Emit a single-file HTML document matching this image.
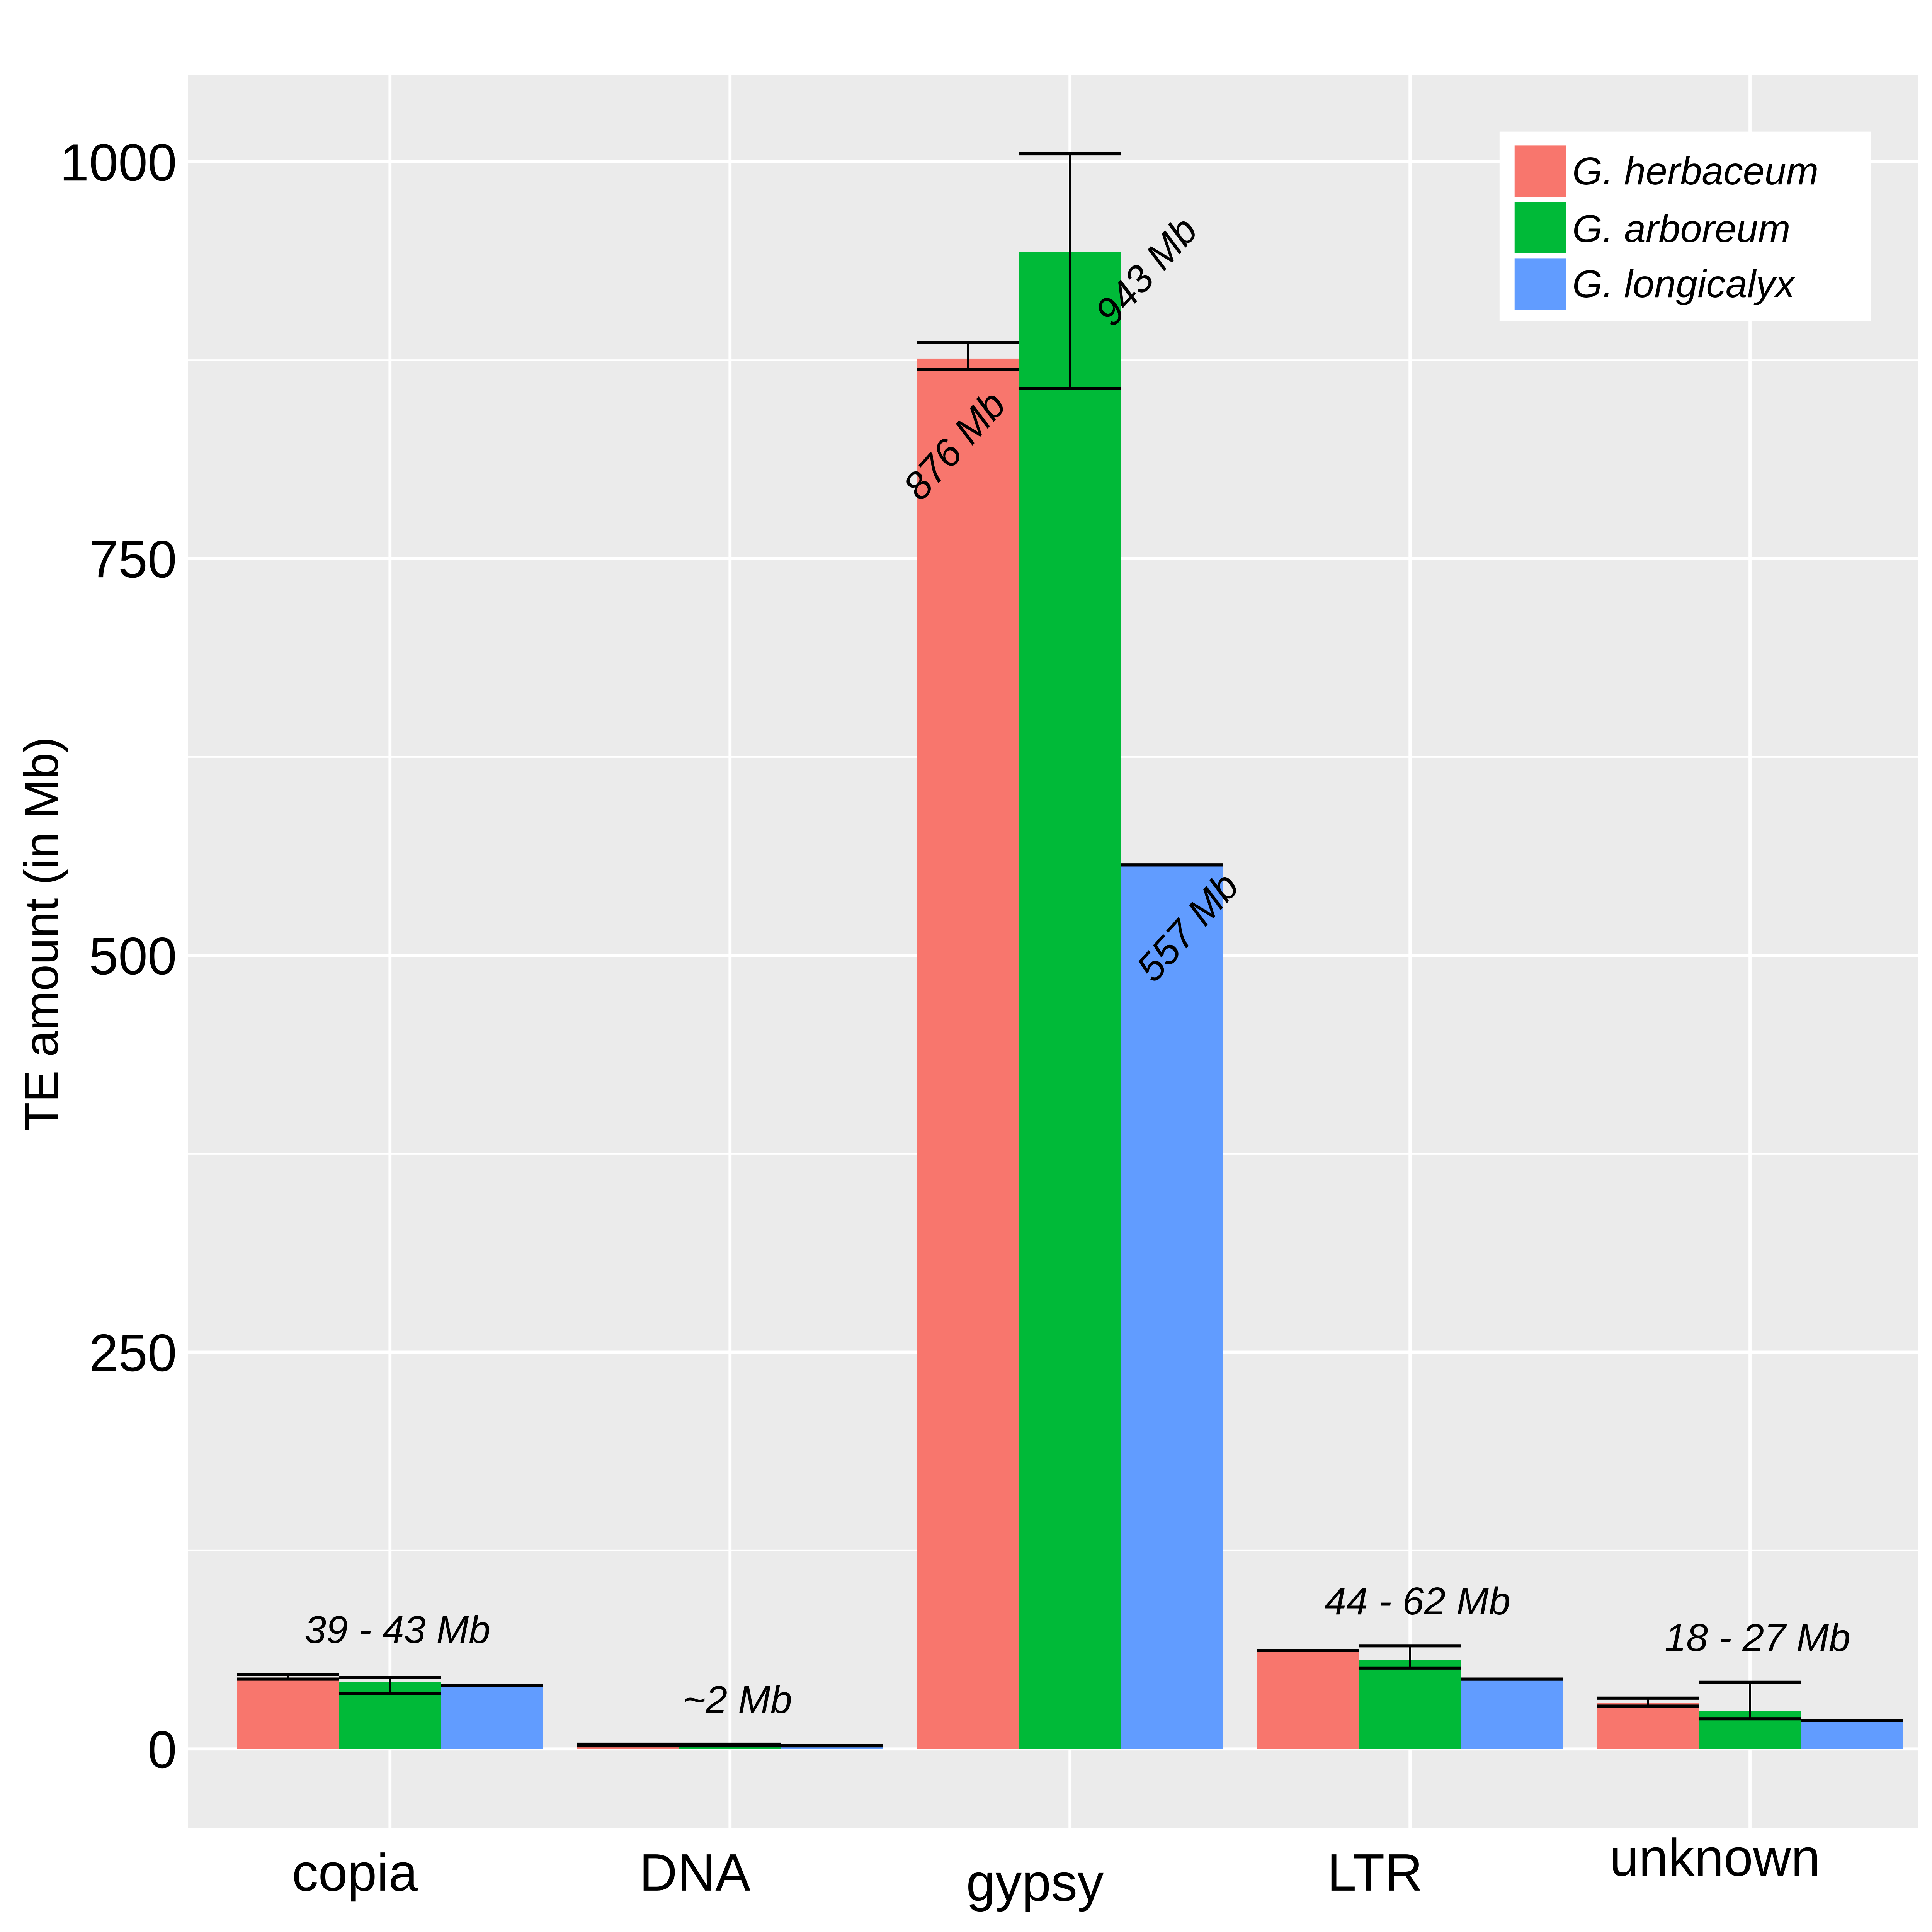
<!DOCTYPE html>
<html><head><meta charset="utf-8"><style>
html,body{margin:0;padding:0;background:#fff;}
svg{display:block;}
text{font-family:"Liberation Sans",sans-serif;}
</style></head><body>
<svg id="chart" width="5088" height="5000" viewBox="0 0 1568 1541" xmlns="http://www.w3.org/2000/svg">
<rect x="150" y="60" width="1380" height="1398" fill="#ebebeb"/>
<g id="grid"></g>
<g id="bars"></g>
<g id="labels"></g>
<g id="legend">
  <rect x="1196" y="105" width="296" height="151" fill="#fff"/>
  <rect x="1208" y="116" width="41" height="41" fill="#f8766d"/>
  <rect x="1208" y="161" width="41" height="41" fill="#00ba38"/>
  <rect x="1208" y="206" width="41" height="41" fill="#619cff"/>
  <text x="1254" y="147" font-size="31" font-style="italic">G. herbaceum</text>
  <text x="1254" y="193" font-size="31" font-style="italic">G. arboreum</text>
  <text x="1254" y="237" font-size="31" font-style="italic">G. longicalyx</text>
</g>
<text transform="translate(46,745) rotate(-90)" text-anchor="middle" font-size="38">TE amount (in Mb)</text>
</svg>
<script>
const categories = ["copia","DNA","gypsy","LTR","unknown"];
const herbaceum = [45, 2, 876, 62, 29];
const arboreum = [42, 2, 943, 56, 24];
const longicalyx = [40, 2, 557, 44, 18];
const herbLow = [44, 2, 869, 62, 27];
const herbHigh = [47, 3, 886, 62, 32];
const arbLow = [35, 2, 857, 51, 19];
const arbHigh = [45, 3, 1005, 65, 42];
const longLow = [40, 2, 557, 44, 18];
const longHigh = [40, 2, 557, 44, 18];
const yTicks = [0, 250, 500, 750, 1000];
const yMinor = [125, 375, 625, 875];
const annotations = ["39 - 43 Mb","~2 Mb",null,"44 - 62 Mb","18 - 27 Mb"];
const gypsyLabels = ["876 Mb","943 Mb","557 Mb"];

const NS="http://www.w3.org/2000/svg";
const y = v => 1395 - v*1.266;
const x = i => 311 + i*271.2;
const bw = 81.3;
const colors=["#f8766d","#00ba38","#619cff"];
function mk(tag, attrs, parent){const e=document.createElementNS(NS,tag);for(const k in attrs)e.setAttribute(k,attrs[k]);parent.appendChild(e);return e;}
const grid=document.getElementById('grid'), bars=document.getElementById('bars'), labels=document.getElementById('labels'), svg=document.getElementById('chart');
yMinor.forEach(v=>{const l=mk('line',{x1:150,x2:1530,y1:y(v),y2:y(v),stroke:'#fff','stroke-width':1.2},grid);

});
yTicks.forEach(v=>{const l=mk('line',{x1:150,x2:1530,y1:y(v),y2:y(v),stroke:'#fff','stroke-width':2.4},grid);


const t=mk('text',{x:141,y:y(v)+15,'text-anchor':'end','font-size':42},svg);t.textContent=v;

});
categories.forEach((c,i)=>{const l=mk('line',{x1:x(i),x2:x(i),y1:60,y2:1458,stroke:'#fff','stroke-width':2.4},grid);

});
const series=[[herbaceum,herbLow,herbHigh],[arboreum,arbLow,arbHigh],[longicalyx,longLow,longHigh]];
categories.forEach((c,i)=>{
  series.forEach((s,j)=>{
    const x0=x(i)-1.5*bw+j*bw;
    const r=mk('rect',{x:x0,y:y(s[0][i]),width:bw,height:y(0)-y(s[0][i]),fill:colors[j]},bars);
    
    
    const lo=y(s[1][i]), hi=y(s[2][i]), cx=x0+bw/2;
    const g=mk('g',{stroke:'#000'},bars);
    
    
    mk('line',{x1:x0,x2:x0+bw,y1:lo,y2:lo,'stroke-width':2.5},g);
    mk('line',{x1:x0,x2:x0+bw,y1:hi,y2:hi,'stroke-width':2.5},g);
    mk('line',{x1:cx,x2:cx,y1:lo,y2:hi,'stroke-width':1.5},g);
  });
  const xl=mk('text',{x:x(i)-28,y:i==2?1516:(i==4?1496:1508),'text-anchor':'middle','font-size':42},labels);
  xl.textContent=c;
  
  
  if(annotations[i]){
    const top=Math.max(herbHigh[i],arbHigh[i],longHigh[i]);
    const a=mk('text',{x:x(i)+6,y:y(top)-25,'text-anchor':'middle','font-size':31,'font-style':'italic'},labels);
    a.textContent=annotations[i];
    
    
  }
});
const gpos=[[763,357],[916,218],[949,741]];
gypsyLabels.forEach((t,j)=>{
  const e=mk('text',{transform:`translate(${gpos[j][0]},${gpos[j][1]}) rotate(-48)`,'text-anchor':'middle','font-size':31,'font-style':'italic','dominant-baseline':'middle'},labels);
  e.textContent=t;
  
  
});
</script>
</body></html>
